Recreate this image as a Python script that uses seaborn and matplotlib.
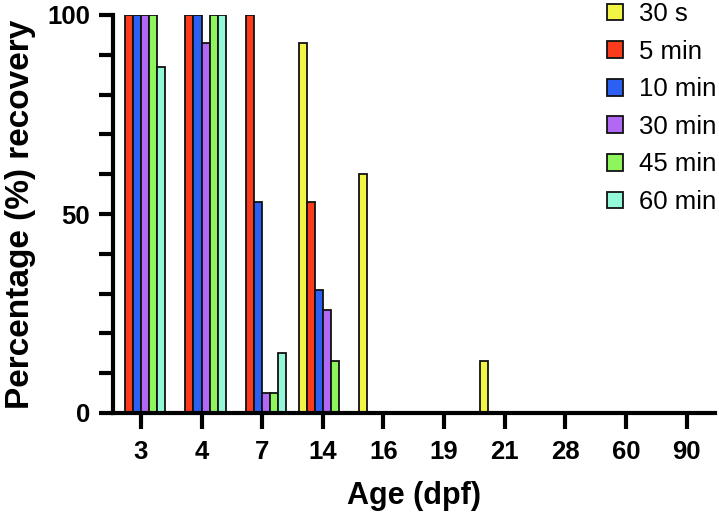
import numpy as np
import pandas as pd
import matplotlib
matplotlib.use("Agg")
import matplotlib.pyplot as plt
import seaborn as sns
from matplotlib.ticker import MultipleLocator

ages = ["3", "4", "7", "14", "16", "19", "21", "28", "60", "90"]
series = ["30 s", "5 min", "10 min", "30 min", "45 min", "60 min"]
v_30s = [0, 0, 0, 93, 60, 0, 13, 0, 0, 0]
v_5min = [100, 100, 100, 53, 0, 0, 0, 0, 0, 0]
v_10min = [100, 100, 53, 31, 0, 0, 0, 0, 0, 0]
v_30min = [100, 93, 5, 26, 0, 0, 0, 0, 0, 0]
v_45min = [100, 100, 5, 13, 0, 0, 0, 0, 0, 0]
v_60min = [87, 100, 15, 0, 0, 0, 0, 0, 0, 0]
colors = ["#f2f545", "#fa3c1c", "#2c60f2", "#b068f5", "#8ef55c", "#94f7d8"]

values = [v_30s, v_5min, v_10min, v_30min, v_45min, v_60min]
rows = []
for s, vals in zip(series, values):
    for a, v in zip(ages, vals):
        rows.append({"Age": a, "Duration": s, "Recovery": v})
df = pd.DataFrame(rows)

sns.set_style("ticks")
plt.rcParams["font.family"] = ["Liberation Sans", "DejaVu Sans"]
plt.rcParams["text.color"] = "black"
plt.rcParams["axes.labelcolor"] = "black"
plt.rcParams["xtick.color"] = "black"
plt.rcParams["ytick.color"] = "black"

fig = plt.figure(figsize=(7.19, 5.15), dpi=100)
ax = fig.add_axes([113/719, 1 - 413/515, (715 - 113)/719, (413 - 15)/515])

sns.barplot(data=df, x="Age", y="Recovery", hue="Duration", order=ages,
            hue_order=series, palette=colors, width=0.8, edgecolor="#111111",
            linewidth=1.3, saturation=1, errorbar=None, ax=ax)

ax.set_xlim(-0.46, 9.47)
ax.set_ylim(0, 100)
ax.yaxis.set_major_locator(MultipleLocator(50))
ax.yaxis.set_minor_locator(MultipleLocator(10))
for s in ["top", "right"]:
    ax.spines[s].set_visible(False)
for s in ["left", "bottom"]:
    ax.spines[s].set_linewidth(3)
    ax.spines[s].set_color("black")
ax.tick_params(axis="y", which="both", width=3, length=10, color="black")
ax.tick_params(axis="x", which="both", width=3, length=11.5, color="black")
ax.tick_params(axis="y", which="major", labelsize=18.5, pad=6.5, labelcolor="black")
ax.tick_params(axis="x", which="major", labelsize=18.5, pad=8, labelcolor="black")
for lab in ax.get_xticklabels() + ax.get_yticklabels():
    lab.set_fontweight("bold")

ax.set_xlabel("Age (dpf)", fontsize=22, fontweight="bold", labelpad=12, color="black")
ax.set_ylabel("Percentage (%) recovery", fontsize=24, fontweight="bold", labelpad=8, color="black")

leg = ax.legend(loc="upper right", bbox_to_anchor=(716/719, 1 - 2/515),
                bbox_transform=fig.transFigure, frameon=False,
                fontsize=18.5, handlelength=0.62, handleheight=0.62,
                handletextpad=0.62, labelspacing=0.53, borderaxespad=0,
                borderpad=0)
for t in leg.get_texts():
    t.set_color("black")

fig.savefig("out.png", dpi=100)
